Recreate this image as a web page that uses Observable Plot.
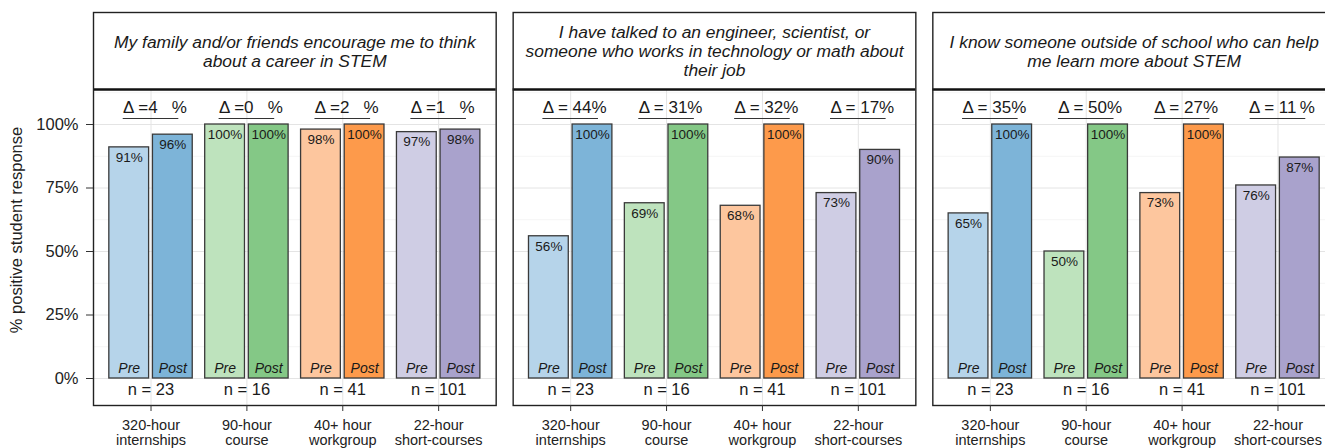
<!DOCTYPE html>
<html>
<head>
<meta charset="utf-8">
<script src="https://cdn.jsdelivr.net/npm/d3@7"></script>
<script src="https://cdn.jsdelivr.net/npm/@observablehq/plot@0.6"></script>
<style>
  html, body { margin: 0; padding: 0; background: #fff; overflow: hidden; }
  #chart svg { display: block; }
</style>
</head>
<body>
<div id="chart"></div>
<script>
// ---- data ----
const questions = [
  "My family and/or friends encourage me to think\nabout a career in STEM",
  "I have talked to an engineer, scientist, or\nsomeone who works in technology or math about\ntheir job",
  "I know someone outside of school who can help\nme learn more about STEM"
];
const groups = ["320-hour\ninternships", "90-hour\ncourse", "40+ hour\nworkgroup", "22-hour\nshort-courses"];
const nCounts = [23, 16, 41, 101];
const phases = ["Pre", "Post"];

const preQ1 = [91, 100, 98, 97];
const postQ1 = [96, 100, 100, 98];
const preQ2 = [56, 69, 68, 73];
const postQ2 = [100, 100, 100, 90];
const preQ3 = [65, 50, 73, 76];
const postQ3 = [100, 100, 100, 87];

const deltaQ1 = ["Δ =4\u2007 %", "Δ =0\u2007 %", "Δ =2\u2007 %", "Δ =1\u2007 %"];
const deltaQ2 = ["Δ = 44%", "Δ = 31%", "Δ = 32%", "Δ = 17%"];
const deltaQ3 = ["Δ = 35%", "Δ = 50%", "Δ = 27%", "Δ = 11\u2009%"];

const yTicks = [0, 25, 50, 75, 100];
const yMinor = [12.5, 37.5, 62.5, 87.5, 112.5];

const preColors = ["#b6d4ea", "#bee3bd", "#fdc69e", "#cfcde4"];
const postColors = ["#7db4d8", "#84c886", "#fd9a4b", "#a9a2cc"];

// ---- derived tables ----
const preAll = [preQ1, preQ2, preQ3];
const postAll = [postQ1, postQ2, postQ3];
const deltaAll = [deltaQ1, deltaQ2, deltaQ3];

const Y_MIN = -10.63, Y_TOP = 113.78, Y_MAX = 144.1;
const X_MIN = -0.6, X_MAX = 3.6;
const BAR_GAP = 0.02, BAR_W = 0.415;

const bars = [];
const groupRows = [];
questions.forEach((q, qi) => {
  groups.forEach((g, gi) => {
    phases.forEach((p, pi) => {
      const value = pi === 0 ? preAll[qi][gi] : postAll[qi][gi];
      const x1 = pi === 0 ? gi - BAR_GAP - BAR_W : gi + BAR_GAP;
      const x2 = x1 + BAR_W;
      bars.push({q, gi, phase: p, value, x1, x2, xc: (x1 + x2) / 2,
                 fill: pi === 0 ? preColors[gi] : postColors[gi]});
    });
    groupRows.push({q, gi, n: nCounts[gi], delta: deltaAll[qi][gi]});
  });
});

const font = "'Liberation Sans', Arial, Helvetica, sans-serif";

const chart = Plot.plot({
  width: 1325,
  height: 448,
  marginLeft: 93,
  marginRight: -10,
  marginTop: 12,
  marginBottom: 43,
  style: {fontFamily: font, background: "#fff", color: "#1a1a1a"},
  fx: {domain: questions, paddingInner: 17 / 420, paddingOuter: 0, round: false, axis: null, label: null},
  x: {type: "linear", domain: [X_MIN, X_MAX]},
  y: {domain: [Y_MIN, Y_MAX]},
  color: {type: "identity"},
  marks: [
    // grid
    Plot.ruleY(yMinor, {y: d => d, stroke: "#f2f2f2", strokeWidth: 0.8}),
    Plot.ruleY(yTicks, {y: d => d, stroke: "#e4e4e4", strokeWidth: 1}),
    Plot.ruleX(d3.range(groups.length), {x: d => d, y1: Y_MIN, y2: Y_TOP, stroke: "#e4e4e4", strokeWidth: 1}),
    // bars
    Plot.rectY(bars, {fx: "q", x1: "x1", x2: "x2", y1: 0, y2: "value", fill: "fill", stroke: "#3a3a3a", strokeWidth: 1.3}),
    // value labels
    Plot.text(bars, {fx: "q", x: "xc", y: "value", text: d => d.value + "%", dy: 10, fontSize: 13.5, fill: "#1a1a1a"}),
    // Pre / Post labels
    Plot.text(bars, {fx: "q", x: "xc", y: 0, text: "phase", dy: -10, fontSize: 14, fontStyle: "italic", fill: "#1a1a1a"}),
    // n labels
    Plot.text(groupRows, {fx: "q", x: "gi", y: 0, text: d => "n = " + d.n, dy: 11, fontSize: 16.5, fill: "#1a1a1a"}),
    // delta labels
    Plot.text(groupRows, {fx: "q", x: "gi", y: 100, text: "delta", dy: -17, dx: 4, fontSize: 17, fill: "#1a1a1a"}),
    Plot.ruleY(groupRows, {fx: "q", y: 100, x1: d => d.gi - 0.29, x2: d => d.gi + 0.29, dy: -6, stroke: "#333", strokeWidth: 1.2}),
    // header strip
    Plot.rect(questions, {fx: d => d, x1: X_MIN, x2: X_MAX, y1: Y_TOP, y2: Y_MAX, fill: "#fff"}),
    Plot.text(questions, {fx: d => d, x: (X_MIN + X_MAX) / 2, y: (Y_TOP + Y_MAX) / 2, text: d => d,
      fontSize: 17.4, fontStyle: "italic", lineHeight: 1.09, lineAnchor: "middle", fill: "#1a1a1a"}),
    Plot.ruleY(questions, {fx: d => d, y: Y_TOP, stroke: "#111", strokeWidth: 2.4}),
    Plot.frame({stroke: "#222", strokeWidth: 1.4}),
    // axes
    Plot.axisY({ticks: yTicks, tickFormat: d => d + "%", tickSize: 7, tickPadding: 8, fontSize: 16.5,
      label: null, stroke: "#333", fill: "#222"}),
    Plot.axisX({ticks: [0, 1, 2, 3], tickFormat: i => groups[i], tickSize: 6, tickPadding: 8, fontSize: 14.5,
      lineHeight: 1.03, label: null, stroke: "#333", fill: "#222"}),
    // y-axis title
    Plot.text([{q: questions[0], label: "% positive student response"}], {fx: "q", frameAnchor: "left",
      text: "label", rotate: -90, textAnchor: "middle", dx: -77, dy: 21, fontSize: 16.5, fill: "#222"})
  ]
});

document.getElementById("chart").appendChild(chart);
</script>
</body>
</html>
